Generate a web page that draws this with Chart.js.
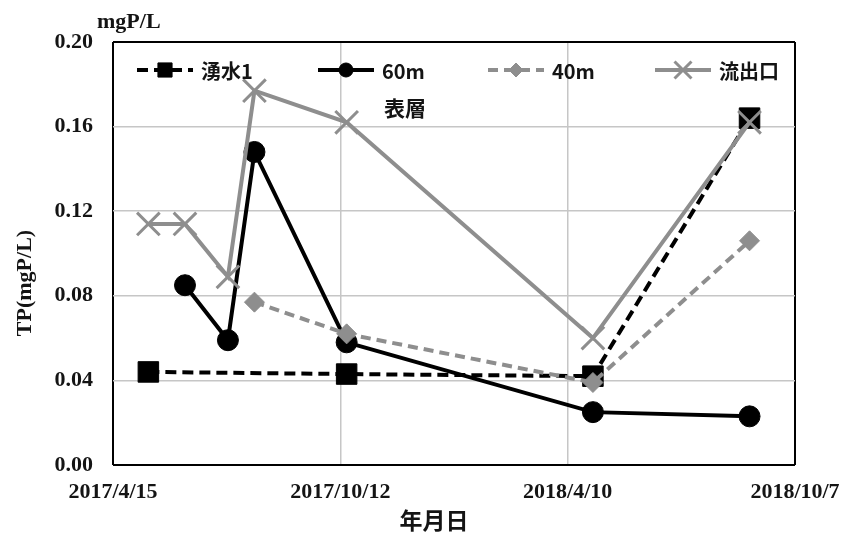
<!DOCTYPE html>
<html>
<head>
<meta charset="utf-8">
<script src="https://cdn.jsdelivr.net/npm/chart.js@4.4.1/dist/chart.umd.min.js"></script>
<style>
  html, body { margin: 0; padding: 0; background: #fff; }
  #wrap { width: 845px; height: 534px; }
</style>
</head>
<body>
<div id="wrap"><canvas id="c" width="845" height="534"></canvas></div>
<script>
// Total phosphorus (mgP/L) by sampling date for each station
const seriesNames = ['湧水1', '60m', '40m', '流出口'];

const springDates = ['2017/5/13', '2017/10/17', '2018/4/30', '2018/9/1'];
const springTP    = [0.044, 0.043, 0.042, 0.164];

const depth60Dates = ['2017/6/11', '2017/7/15', '2017/8/5', '2017/10/17', '2018/4/30', '2018/9/1'];
const depth60TP    = [0.085, 0.059, 0.148, 0.058, 0.025, 0.023];

const depth40Dates = ['2017/8/5', '2017/10/17', '2018/4/30', '2018/9/1'];
const depth40TP    = [0.077, 0.062, 0.039, 0.106];

const outletDates = ['2017/5/13', '2017/6/11', '2017/7/15', '2017/8/5', '2017/10/17', '2018/4/30', '2018/9/1'];
const outletTP    = [0.114, 0.114, 0.089, 0.177, 0.162, 0.060, 0.162];

const xTickLabels = ['2017/4/15', '2017/10/12', '2018/4/10', '2018/10/7'];
const yTickValues = [0, 0.04, 0.08, 0.12, 0.16, 0.20];

const unitLabel = 'mgP/L';
const yTitle = 'TP(mgP/L)';
const xTitle = '年月日';
const layerNote = '表層';

// dates are placed on a linear day axis counted from the first tick date
function dayNum(s) {
  const [y, m, d] = s.split('/').map(Number);
  return Date.UTC(y, m - 1, d) / 86400000;
}
const origin = dayNum(xTickLabels[0]);
const toPoints = (dates, vals) => dates.map((d, i) => ({ x: dayNum(d) - origin, y: vals[i] }));
const xTickDays = xTickLabels.map(l => dayNum(l) - origin);

const GRAY = '#8e8e8e';
const INK = '#141414';
const SERIF = '"Liberation Serif", "Times New Roman", serif';
const CJK = '"Noto Sans CJK JP", "Noto Sans", sans-serif';

const datasets = [
  {
    label: seriesNames[0], data: toPoints(springDates, springTP),
    borderColor: '#000', backgroundColor: '#000', borderWidth: 4, borderDash: [11, 6],
    pointStyle: 'rect', pointRadius: 14.5, pointBorderWidth: 1, order: 4,
    legendRadius: 10
  },
  {
    label: seriesNames[1], data: toPoints(depth60Dates, depth60TP),
    borderColor: '#000', backgroundColor: '#000', borderWidth: 4,
    pointStyle: 'circle', pointRadius: 10.5, pointBorderWidth: 1, order: 3,
    legendRadius: 7
  },
  {
    label: seriesNames[2], data: toPoints(depth40Dates, depth40TP),
    borderColor: GRAY, backgroundColor: GRAY, borderWidth: 4, borderDash: [10, 6],
    pointStyle: 'rectRot', pointRadius: 10, pointBorderWidth: 1, order: 2,
    legendRadius: 7
  },
  {
    label: seriesNames[3], data: toPoints(outletDates, outletTP),
    borderColor: GRAY, backgroundColor: GRAY, borderWidth: 4,
    pointStyle: 'crossRot', pointRadius: 16, pointBorderWidth: 3, order: 1,
    legendRadius: 12
  }
];

// legend drawn inside the plot area, one line sample + marker + text per series
const legendLayout = { y: 70, xs: [137, 318, 488, 655], lineLen: 56, gap: 8 };

const insideLegend = {
  id: 'insideLegend',
  afterDraw(chart) {
    const ctx = chart.ctx;
    ctx.save();
    chart.data.datasets.forEach((ds, i) => {
      const x0 = legendLayout.xs[i];
      const y = legendLayout.y;
      ctx.strokeStyle = ds.borderColor;
      ctx.lineWidth = ds.borderWidth;
      ctx.setLineDash(ds.borderDash || []);
      ctx.beginPath();
      ctx.moveTo(x0, y);
      ctx.lineTo(x0 + legendLayout.lineLen, y);
      ctx.stroke();
      ctx.setLineDash([]);
      ctx.fillStyle = ds.backgroundColor;
      ctx.strokeStyle = ds.borderColor;
      ctx.lineWidth = ds.pointBorderWidth;
      Chart.helpers.drawPoint(ctx, {
        pointStyle: ds.pointStyle, rotation: 0,
        radius: ds.legendRadius, borderWidth: ds.pointBorderWidth
      }, x0 + legendLayout.lineLen / 2, y);
      ctx.fillStyle = INK;
      ctx.font = 'bold 20px ' + CJK;
      ctx.textAlign = 'left';
      ctx.textBaseline = 'middle';
      ctx.fillText(ds.label, x0 + legendLayout.lineLen + legendLayout.gap, y + 1);
    });
    ctx.restore();
  }
};

// unit label, axis titles and the layer note
const chartTexts = {
  id: 'chartTexts',
  afterDraw(chart) {
    const ctx = chart.ctx;
    ctx.save();
    ctx.fillStyle = INK;
    ctx.textBaseline = 'middle';

    ctx.font = 'bold 22px ' + SERIF;
    ctx.textAlign = 'left';
    ctx.fillText(unitLabel, 97, 22);

    ctx.save();
    ctx.translate(25, 283);
    ctx.rotate(-Math.PI / 2);
    ctx.textAlign = 'center';
    ctx.fillText(yTitle, 0, 0);
    ctx.restore();

    ctx.font = 'bold 23px ' + CJK;
    ctx.textAlign = 'center';
    ctx.fillText(xTitle, 434, 520);

    ctx.font = 'bold 21px ' + CJK;
    ctx.fillText(layerNote, 405, 108);
    ctx.restore();
  }
};

const edgeGrid = (isEdge) => ({
  color: (c) => isEdge(c) ? '#000' : '#c6c6c6',
  lineWidth: (c) => isEdge(c) ? 2 : 1.5,
  drawTicks: false
});

new Chart(document.getElementById('c'), {
  type: 'line',
  data: { datasets },
  plugins: [insideLegend, chartTexts],
  options: {
    responsive: false,
    animation: false,
    devicePixelRatio: 1,
    layout: { padding: { top: 42, right: 50, bottom: 0, left: 0 } },
    elements: { line: { tension: 0 } },
    plugins: { legend: { display: false }, tooltip: { enabled: false } },
    scales: {
      x: {
        type: 'linear',
        min: xTickDays[0],
        max: xTickDays[xTickDays.length - 1],
        afterBuildTicks: (s) => { s.ticks = xTickDays.map(v => ({ value: v })); },
        afterFit: (s) => { s.height = 69; s.paddingRight = 0; s.paddingLeft = 0; },
        grid: edgeGrid(c => c.tick && (c.tick.value === xTickDays[0] || c.tick.value === xTickDays[xTickDays.length - 1])),
        border: { display: false },
        ticks: {
          padding: 14,
          maxRotation: 0,
          autoSkip: false,
          color: INK,
          font: { family: SERIF, size: 22, weight: 'bold' },
          callback: (v) => xTickLabels[xTickDays.indexOf(v)]
        }
      },
      y: {
        type: 'linear',
        min: yTickValues[0],
        max: yTickValues[yTickValues.length - 1],
        afterBuildTicks: (s) => { s.ticks = yTickValues.map(v => ({ value: v })); },
        afterFit: (s) => { s.width = 113; },
        grid: edgeGrid(c => c.tick && (c.tick.value === yTickValues[0] || c.tick.value === yTickValues[yTickValues.length - 1])),
        border: { display: false },
        ticks: {
          padding: 20,
          color: INK,
          font: { family: SERIF, size: 22, weight: 'bold' },
          callback: (v) => v.toFixed(2)
        }
      }
    }
  }
});
</script>
</body>
</html>
